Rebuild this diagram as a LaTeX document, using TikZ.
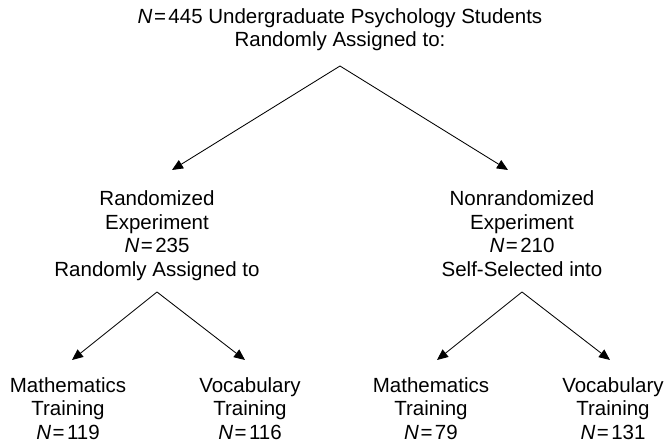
\documentclass[tikz,border=0pt]{standalone}
\usepackage{fontspec}
\setmainfont{Liberation Sans}
\usetikzlibrary{arrows.meta}
\newcommand{\NN}[1]{\textit{N}\hspace{1.5pt}=\hspace{2.5pt}#1}
\begin{document}
\begin{tikzpicture}[x=1pt,y=-1pt,
  lbl/.style={align=center,inner sep=0pt,anchor=north,font=\fontsize{20.5}{23.5}\selectfont},
  arr/.style={line width=0.85pt,-{Triangle[length=11pt,width=9.5pt]}}]
\useasboundingbox (0,0) rectangle (664,443);
\node[lbl] (top) at (340,8) {\NN{445} Undergraduate Psychology Students\\Randomly Assigned to:};
\node[lbl] (rand) at (157,190.5) {Randomized\\Experiment\\\NN{235}\\Randomly Assigned to};
\node[lbl] (nonr) at (522,190.5) {Nonrandomized\\Experiment\\\NN{210}\\Self-Selected into};
\node[lbl] (m1) at (68,377.3) {Mathematics\\Training\\\NN{119}};
\node[lbl] (v1) at (250,377.3) {Vocabulary\\Training\\\NN{116}};
\node[lbl] (m2) at (431,377.3) {Mathematics\\Training\\\NN{79}};
\node[lbl] (v2) at (613,377.3) {Vocabulary\\Training\\\NN{131}};
\coordinate (a0) at (340,66);
\coordinate (t1) at (172,170);
\coordinate (t2) at (508,170);
\coordinate (a1) at (157,292);
\coordinate (t3) at (72,360);
\coordinate (t4) at (245,360);
\coordinate (a2) at (522,292);
\coordinate (t5) at (437,360);
\coordinate (t6) at (610,360);
\draw[arr] (a0) -- (t1);
\draw[arr] (a0) -- (t2);
\draw[arr] (a1) -- (t3);
\draw[arr] (a1) -- (t4);
\draw[arr] (a2) -- (t5);
\draw[arr] (a2) -- (t6);
\end{tikzpicture}
\end{document}
